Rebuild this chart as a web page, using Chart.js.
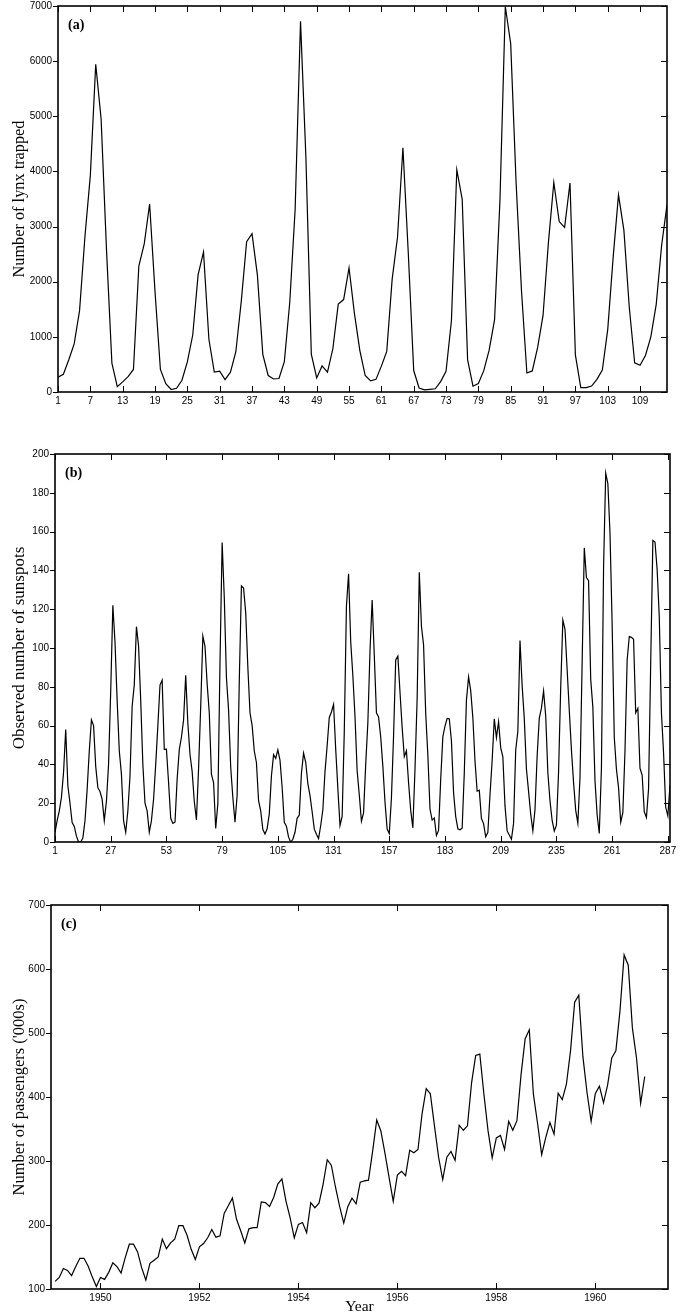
<!DOCTYPE html>
<html>
<head>
<meta charset="utf-8">
<script src="https://cdn.jsdelivr.net/npm/chart.js@4"></script>
<style>
  body { margin: 0; background: #fff; }
  .panel { position: absolute; left: 0; width: 694px; }
</style>
</head>
<body>
<div class="panel" style="top:0;height:420px"><canvas id="lynx-chart"></canvas></div>
<div class="panel" style="top:420px;height:450px"><canvas id="sunspot-chart"></canvas></div>
<div class="panel" style="top:870px;height:446px"><canvas id="air-chart"></canvas></div>
<script>
// (a) Canadian lynx trappings, 114 years
const lynx = [269, 321, 585, 871, 1475, 2821, 3928, 5943, 4950, 2577,
  523, 98, 184, 279, 409, 2285, 2685, 3409, 1824, 409,
  151, 45, 68, 213, 546, 1033, 2129, 2536, 957, 361,
  377, 225, 360, 731, 1638, 2725, 2871, 2119, 684, 299,
  236, 245, 552, 1623, 3311, 6721, 4254, 687, 255, 473,
  358, 784, 1594, 1676, 2251, 1426, 756, 299, 201, 229,
  469, 736, 2042, 2811, 4431, 2511, 389, 73, 39, 49,
  59, 188, 377, 1292, 4031, 3495, 587, 105, 153, 387,
  758, 1307, 3465, 6991, 6313, 3794, 1836, 345, 382, 808,
  1388, 2713, 3800, 3091, 2985, 3790, 674, 81, 80, 108,
  229, 399, 1132, 2432, 3574, 2935, 1537, 529, 485, 662,
  1000, 1590, 2657, 3396];
const lynxTicks = [1, 7, 13, 19, 25, 31, 37, 43, 49, 55, 61, 67, 73, 79, 85, 91, 97, 103, 109];

// (b) annual sunspot numbers, 288 years
const sunspots = [5, 11, 16, 23, 36, 58, 29, 20, 10, 8,
  3, 0, 0, 2, 11, 27, 47, 63, 60, 39,
  28, 26, 22, 11, 21, 40, 78, 122, 103, 73,
  47, 35, 11, 5, 16, 34, 70, 81, 111, 101,
  73, 40, 20, 16, 5, 11, 22, 40, 60, 80.9,
  83.4, 47.7, 47.8, 30.7, 12.2, 9.6, 10.2, 32.4, 47.6, 54.0,
  62.9, 85.9, 61.2, 45.1, 36.4, 20.9, 11.4, 37.8, 69.8, 106.1,
  100.8, 81.6, 66.5, 34.8, 30.6, 7.0, 19.8, 92.5, 154.4, 125.9,
  84.8, 68.1, 38.5, 22.8, 10.2, 24.1, 82.9, 132.0, 130.9, 118.1,
  89.9, 66.6, 60.0, 46.9, 41.0, 21.3, 16.0, 6.4, 4.1, 6.8,
  14.5, 34.0, 45.0, 43.1, 47.5, 42.2, 28.1, 10.1, 8.1, 2.5,
  0.0, 1.4, 5.0, 12.2, 13.9, 35.4, 45.8, 41.1, 30.1, 23.9,
  15.6, 6.6, 4.0, 1.8, 8.5, 16.6, 36.3, 49.6, 64.2, 67.0,
  70.9, 47.8, 27.5, 8.5, 13.2, 56.9, 121.5, 138.3, 103.2, 85.7,
  64.6, 36.7, 24.2, 10.7, 15.0, 40.1, 61.5, 98.5, 124.7, 96.3,
  66.6, 64.5, 54.1, 39.0, 20.6, 6.7, 4.3, 22.7, 54.8, 93.8,
  95.8, 77.2, 59.1, 44.0, 47.0, 30.5, 16.3, 7.3, 37.6, 74.0,
  139.0, 111.2, 101.6, 66.2, 44.7, 17.0, 11.3, 12.4, 3.4, 6.0,
  32.3, 54.3, 59.7, 63.7, 63.5, 52.2, 25.4, 13.1, 6.8, 6.3,
  7.1, 35.6, 73.0, 85.1, 78.0, 64.0, 41.8, 26.2, 26.7, 12.1,
  9.5, 2.7, 5.0, 24.4, 42.0, 63.5, 53.8, 62.0, 48.5, 43.9,
  18.6, 5.7, 3.6, 1.4, 9.6, 47.4, 57.1, 103.9, 80.6, 63.6,
  37.6, 26.1, 14.2, 5.8, 16.7, 44.3, 63.9, 69.0, 77.8, 64.9,
  35.7, 21.2, 11.1, 5.7, 8.7, 36.1, 79.7, 114.4, 109.6, 88.8,
  67.8, 47.5, 30.6, 16.3, 9.6, 33.2, 92.6, 151.6, 136.3, 134.7,
  83.9, 69.4, 31.5, 13.9, 4.4, 38.0, 141.7, 190.2, 184.8, 159.0,
  112.3, 53.9, 37.5, 27.9, 10.2, 15.1, 47.0, 93.8, 105.9, 105.5,
  104.5, 66.6, 68.9, 38.0, 34.5, 15.5, 12.6, 27.5, 92.5, 155.4,
  154.6, 140.4, 115.9, 66.6, 45.9, 17.9, 13.4, 29.2];
const sunspotTicks = [1, 27, 53, 79, 105, 131, 157, 183, 209, 235, 261, 287];

// (c) monthly airline passengers ('000s), 1949-1960
const passengers = [112, 118, 132, 129, 121, 135, 148, 148, 136, 119, 104, 118,
  115, 126, 141, 135, 125, 149, 170, 170, 158, 133, 114, 140,
  145, 150, 178, 163, 172, 178, 199, 199, 184, 162, 146, 166,
  171, 180, 193, 181, 183, 218, 230, 242, 209, 191, 172, 194,
  196, 196, 236, 235, 229, 243, 264, 272, 237, 211, 180, 201,
  204, 188, 235, 227, 234, 264, 302, 293, 259, 229, 203, 229,
  242, 233, 267, 269, 270, 315, 364, 347, 312, 274, 237, 278,
  284, 277, 317, 313, 318, 374, 413, 405, 355, 306, 271, 306,
  315, 301, 356, 348, 355, 422, 465, 467, 404, 347, 305, 336,
  340, 318, 362, 348, 363, 435, 491, 505, 404, 359, 310, 337,
  360, 342, 406, 396, 420, 472, 548, 559, 463, 407, 362, 405,
  417, 391, 419, 461, 472, 535, 622, 606, 508, 461, 390, 432];
const yearTicks = [1950, 1952, 1954, 1956, 1958, 1960];

Chart.defaults.font.family = "'Liberation Sans', Arial, sans-serif";
Chart.defaults.font.size = 10;
Chart.defaults.color = '#000';
Chart.defaults.animation = false;

// box frame with inward ticks (outward on the left) plus the panel letter
const boxTicks = {
  id: 'boxTicks',
  afterDraw(chart, args, opts) {
    const ctx = chart.ctx;
    const a = chart.chartArea;
    const x = chart.scales.x, y = chart.scales.y;
    ctx.save();
    ctx.strokeStyle = '#000';
    ctx.lineWidth = 1;
    ctx.beginPath();
    x.ticks.forEach(function(t) {
      const px = Math.round(x.getPixelForValue(t.value)) + 0.5;
      ctx.moveTo(px, a.bottom); ctx.lineTo(px, a.bottom - 6);
      ctx.moveTo(px, a.top); ctx.lineTo(px, a.top + 6);
    });
    y.ticks.forEach(function(t) {
      const py = Math.round(y.getPixelForValue(t.value)) + 0.5;
      ctx.moveTo(a.left - 5, py); ctx.lineTo(a.left, py);
      ctx.moveTo(a.right, py); ctx.lineTo(a.right - 6, py);
    });
    ctx.stroke();
    ctx.lineWidth = 1.6;
    ctx.strokeRect(a.left, a.top, a.right - a.left, a.bottom - a.top);
    ctx.fillStyle = '#000';
    ctx.font = "bold 14px 'Liberation Serif', serif";
    ctx.textBaseline = 'alphabetic';
    ctx.fillText(opts.label, a.left + 10, a.top + 23);
    ctx.restore();
  }
};

// plain numbers, no thousands separator
function plain(value) {
  return String(value);
}

function makeChart(id, values, xOf, cfg) {
  const points = values.map(function(v, i) { return { x: xOf(i), y: v }; });
  return new Chart(document.getElementById(id), {
    type: 'line',
    data: {
      datasets: [{
        data: points,
        borderColor: '#000',
        borderWidth: 1.2,
        pointRadius: 0,
        tension: 0,
        fill: false
      }]
    },
    options: {
      responsive: true,
      maintainAspectRatio: false,
      events: [],
      layout: { padding: { top: cfg.top, right: cfg.right, bottom: 0, left: 0 } },
      plugins: {
        legend: { display: false },
        tooltip: { enabled: false },
        boxTicks: { label: cfg.label }
      },
      scales: {
        x: {
          type: 'linear',
          min: cfg.xMin,
          max: cfg.xMax,
          grid: { display: false, drawTicks: false },
          border: { display: false },
          title: {
            display: !!cfg.xTitle,
            text: cfg.xTitle || '',
            font: { family: "'Liberation Serif', serif", size: 15.5 },
            padding: { top: 0, bottom: 0 }
          },
          ticks: { autoSkip: false, maxRotation: 0, padding: 3, callback: plain },
          afterBuildTicks: function(scale) {
            scale.ticks = cfg.xTicks.map(function(v) { return { value: v }; });
          },
          afterFit: function(scale) {
            scale.height = cfg.xHeight;
            scale.paddingLeft = 0;
            scale.paddingRight = 0;
          }
        },
        y: {
          min: cfg.yMin,
          max: cfg.yMax,
          grid: { display: false, drawTicks: false },
          border: { display: false },
          title: {
            display: true,
            text: cfg.yTitle,
            font: { family: "'Liberation Serif', serif", size: cfg.titleSize },
            padding: { top: 20 - cfg.titleSize * 0.6, bottom: 0 }
          },
          ticks: { stepSize: cfg.yStep, padding: 6, callback: plain },
          afterFit: function(scale) {
            scale.width = cfg.left;
            scale.paddingTop = 0;
            scale.paddingBottom = 0;
          }
        }
      }
    },
    plugins: [boxTicks]
  });
}

makeChart('lynx-chart', lynx, function(i) { return i + 1; }, {
  label: '(a)', top: 6, right: 27, left: 58, xHeight: 28,
  xMin: 1, xMax: 114, xTicks: lynxTicks, titleSize: 16.3,
  yMin: 0, yMax: 7000, yStep: 1000, yTitle: 'Number of lynx trapped'
});

makeChart('sunspot-chart', sunspots, function(i) { return i + 1; }, {
  label: '(b)', top: 34, right: 24, left: 55, xHeight: 28,
  xMin: 1, xMax: 288, xTicks: sunspotTicks, titleSize: 17,
  yMin: 0, yMax: 200, yStep: 20, yTitle: 'Observed number of sunspots'
});

makeChart('air-chart', passengers, function(i) { return 1949 + (i + 1) / 12; }, {
  label: '(c)', top: 35, right: 26, left: 51, xHeight: 27,
  xMin: 1949, xMax: 1961.47, xTicks: yearTicks, titleSize: 16.5,
  yMin: 100, yMax: 700, yStep: 100, yTitle: "Number of passengers ('000s)",
  xTitle: 'Year'
});
</script>
</body>
</html>
